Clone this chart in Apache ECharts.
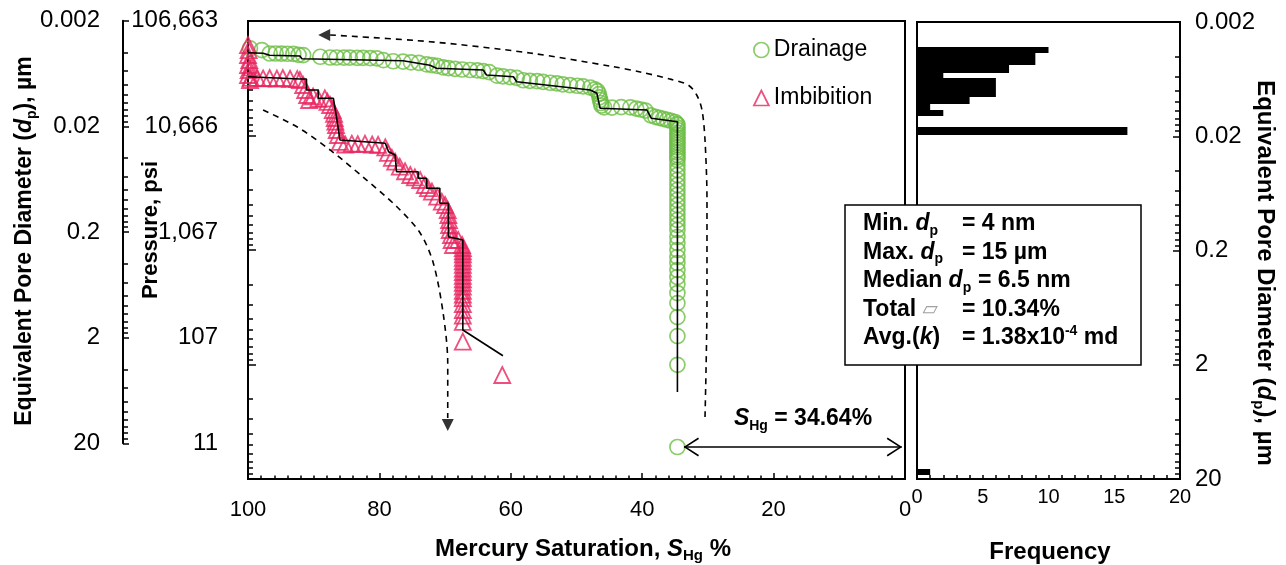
<!DOCTYPE html>
<html>
<head>
<meta charset="utf-8">
<script src="https://cdn.jsdelivr.net/npm/echarts@6/dist/echarts.min.js"></script>
<style>
html, body { margin: 0; padding: 0; background: #fff; }
#chart { width: 1286px; height: 565px; }
</style>
</head>
<body>
<div id="chart"></div>
<script>
// Washburn conversion: pore diameter (µm) = 213.326 / capillary pressure (psi)
const WASHBURN = 213.326;

// Axis ticks (pore diameter, µm) and their labels
const diameterTicks = [0.002, 0.02, 0.2, 2, 20];
const diameterTickLabels = ['0.002', '0.02', '0.2', '2', '20'];
const pressureTickLabels = ['106,663', '10,666', '1,067', '107', '11'];

// Drainage (mercury injection): saturation %, pressure psi
const drainageSat = [
  99.7, 97.9, 96.7, 95.8, 94.9, 94.0, 93.1, 92.3, 91.6, 89.0, 87.5, 86.5, 85.4, 84.5, 83.4, 82.5, 81.4, 80.4,
  79.4, 77.9, 76.4, 75.2, 74.0, 72.8, 72.0, 71.2, 70.3, 69.5, 68.5, 67.4, 66.2, 65.1, 64.2, 63.3, 62.1, 61.2,
  60.1, 59.1, 58.1, 57.1, 56.0, 55.1, 54.0, 53.0, 52.1, 51.0, 49.9, 49.0, 47.9, 47.2, 46.8, 46.6, 46.5, 46.4,
  46.3, 46.2, 45.8, 44.6, 43.2, 41.8, 40.9, 40.2, 39.5, 38.7, 38.0, 37.4, 36.8, 36.2, 35.6, 35.0, 34.7,
  34.64, 34.64, 34.64, 34.64, 34.64, 34.64, 34.64, 34.64, 34.64, 34.64, 34.64, 34.64, 34.64, 34.64, 34.64,
  34.64, 34.64, 34.64, 34.64, 34.64, 34.64, 34.64, 34.64, 34.64, 34.64, 34.64, 34.64, 34.64, 34.64, 34.64,
  34.64, 34.64, 34.64, 34.64, 34.64, 34.64, 34.64, 34.64, 34.64, 34.64, 34.64, 34.64, 34.64
];
const drainagePsi = [
  61600, 59500, 55500, 55500, 55400, 55200, 55000, 54000, 53800, 52000, 51200, 51200, 51000, 51000, 50800, 50800, 50600, 50400,
  48500, 47500, 47200, 46500, 46000, 44500, 44000, 43200, 42000, 41400, 40800, 40200, 39800, 39500, 39000, 38200, 35500, 35000,
  34500, 34000, 32400, 32000, 31800, 31400, 30800, 30400, 29800, 29400, 29000, 28700, 28000, 27000, 26000, 24500, 23000, 21800,
  20500, 19500, 18800, 18700, 18900, 18800, 18300, 18000, 17600, 16000, 15500, 15200, 14900, 14600, 14300, 14000, 13500,
  13170, 12500, 11910, 11300, 10770, 10200, 9740, 9250, 8810, 8380, 7970, 7580, 7206, 6850, 6516,
  5896, 5331, 4820, 4359, 3942, 3565, 3223, 2915, 2636, 2384, 2156, 1950, 1763, 1594, 1385,
  1227, 1067, 927, 821, 713, 620, 538, 449, 367, 277, 189, 106, 20.3
];

// Imbibition (mercury withdrawal): saturation %, pressure psi
const imbibitionSat = [
  100, 99.9, 100, 99.8, 100, 99.9, 100, 99.7, 99.5, 99.6,
  98.6, 97.7, 96.7, 95.6, 94.7, 93.6, 92.5,
  92.1, 91.6, 91.3, 91.0, 90.7, 90.1, 89.3,
  88.3, 87.9, 87.5, 87.1, 86.9, 86.8, 86.7, 86.6, 86.5, 86.3, 86.0,
  85.2, 84.2, 83.3, 82.2, 81.1, 80.2,
  79.1, 78.7, 78.1, 77.6,
  76.9, 76.1, 75.3, 74.6,
  73.8, 73.1, 72.6,
  72.0, 71.2, 70.5, 70.0,
  69.6, 69.5, 69.4, 69.4, 69.3, 69.1, 69.0, 68.8,
  68.0, 67.4,
  67.3, 67.3, 67.3, 67.3, 67.3, 67.3, 67.3, 67.3, 67.3, 67.3,
  67.3, 67.3, 67.3, 67.3, 67.3, 67.3, 67.3, 67.3, 67.3, 67.3,
  61.3
];
const imbibitionPsi = [
  65800, 59500, 53840, 48680, 44020, 39800, 36000, 32560, 42000, 34000,
  33900, 33600, 33900, 33500, 33900, 33400, 33200,
  32560, 29450, 26630, 24080, 21780, 23400, 22300,
  22500, 21000, 19690, 17820, 16500, 15160, 14100, 13170, 11910, 10770, 9400,
  8900, 9050, 8950, 9050, 8900, 8850,
  8400, 7520, 6800, 6300,
  5700, 5200, 4820, 4600,
  4359, 3942, 3700,
  3450, 3120, 2820, 2636,
  2384, 2156, 1950, 1763, 1594, 1442, 1304, 1180,
  1304, 1180,
  1110, 1040, 975, 910, 850, 790, 735, 685, 635, 590,
  550, 510, 470, 435, 405, 360, 319, 285, 251, 169,
  86.4
];

// Stepped trend lines through each curve
const drainageTrendSat = [100, 97.7, 96.7, 92.1, 91.8, 76.4, 72.3, 71.3, 64.2, 63.7, 59.6, 59.1, 47.9, 46.9, 46.4, 39.3, 38.6, 34.64, 34.64];
const drainageTrendPsi = [56400, 55700, 53520, 52770, 49980, 48000, 43770, 41200, 39810, 36000, 34800, 31470, 26630, 24920, 18430, 17820, 15070, 14080, 61.3];
const imbibitionTrendSat = [100, 92.1, 91.1, 91.1, 89.3, 89.3, 87.0, 86.5, 86.0, 79.1, 78.6, 77.6, 77.4, 74.1, 74.1, 72.8, 72.8, 70.8, 70.8, 69.5, 69.5, 67.3, 67.3, 61.2];
const imbibitionTrendPsi = [34800, 33220, 33220, 26630, 26630, 22540, 22540, 15070, 9740, 9116, 7700, 7206, 5150, 5150, 4510, 4510, 3689, 3689, 2729, 2729, 1394, 1304, 213.5, 127.3];

// Dashed guide curves (direction of each process)
const drainageGuideSat = [30.44, 30.14, 30.14, 30.44, 30.9, 31.7, 33.0, 35.8, 40.3, 44.4, 57.1, 72.3, 87.5];
const drainageGuidePsi = [37.1, 390, 2915, 9740, 17820, 24080, 29450, 33220, 38240, 42560, 56050, 70360, 80500];
const imbibitionGuideSat = [97.7, 92.5, 87.5, 82.5, 77.3, 73.8, 71.8, 70.3, 69.6, 69.6];
const imbibitionGuidePsi = [17820, 12650, 7970, 4629, 2532, 1502, 821, 300.5, 109.9, 36.4];
const guideArrowSat = [88.4, 69.6];
const guideArrowPsi = [80500, 31.6];
const guideArrowTurn = [90, 180];

// Final mercury saturation and the pressure it is reached at
const finalSaturation = 34.64;
const finalPsi = 20.3;

// Pore-size distribution: bin edges (µm) and counts
const histBinLow = [0.0033, 0.00376, 0.00426, 0.00476, 0.00556, 0.00622, 0.00706, 0.00803, 0.00912, 0.01043, 0.01178, 0.0165, 16.4];
const histBinHigh = [0.00376, 0.00426, 0.00476, 0.00556, 0.00622, 0.00706, 0.00803, 0.00912, 0.01043, 0.01178, 0.0133, 0.0195, 18.4];
const histCount = [10, 9, 9, 7, 2, 6, 6, 6, 4, 1, 2, 16, 1];

const GREEN = '#6DBE45';
const PINK = '#E8245F';
const FONT = "'Liberation Sans', Arial, Helvetica, sans-serif";
const AXIS_LINE = { color: '#000', width: 2 };
const TICK_LINE = { color: '#000', width: 1.5 };

const toDiameter = p => WASHBURN / p;
const pairs = (sats, psis) => sats.map((s, i) => [s, toDiameter(psis[i])]);

// log minor ticks: 2..9 within every decade
const minorDiameterTicks = [];
diameterTicks.slice(0, -1).forEach(base => {
  for (let m = 2; m <= 9; m++) minorDiameterTicks.push(+(base * m).toPrecision(6));
});

// index of the decade tick a label value belongs to
function tickIndex(v) {
  const e = (v > 0 && v < 1000) ? Math.log10(v) : v;
  const idx = Math.round(e - Math.log10(diameterTicks[0]));
  return Math.max(0, Math.min(diameterTicks.length - 1, idx));
}

const logY = {
  type: 'log', logBase: 10, min: 0.002, max: 20, inverse: true,
  splitLine: { show: false }, minorTick: { show: false }, minorSplitLine: { show: false },
  axisPointer: { show: false }
};
function tickAxis(gridIndex, position, values, length, showLine) {
  return Object.assign({}, logY, {
    gridIndex, position,
    axisLine: { show: showLine, onZero: false, lineStyle: AXIS_LINE },
    axisTick: { show: true, inside: true, length, lineStyle: TICK_LINE, customValues: values },
    axisLabel: { show: false }
  });
}
function labelAxis(gridIndex, position, labels, opts) {
  return Object.assign({}, logY, {
    gridIndex, position, offset: opts.offset || 0,
    axisLine: { show: !!opts.line, onZero: false, lineStyle: AXIS_LINE },
    axisTick: opts.ticks ? { show: true, inside: true, length: opts.ticks, lineStyle: TICK_LINE, customValues: diameterTicks } : { show: false },
    axisLabel: {
      show: true, inside: !!opts.inside, margin: opts.margin, customValues: diameterTicks,
      formatter: v => labels[tickIndex(v)],
      fontSize: 24, color: '#000', fontFamily: FONT
    }
  });
}

const rich = size => ({
  b: { fontSize: size, fontWeight: 'bold', fontFamily: FONT, fill: '#000', lineHeight: 28 },
  i: { fontSize: size, fontWeight: 'bold', fontStyle: 'italic', fontFamily: FONT, fill: '#000', lineHeight: 28 },
  sub: { fontSize: Math.round(size * 0.62), fontWeight: 'bold', fontFamily: FONT, fill: '#000', lineHeight: 10, verticalAlign: 'bottom' },
  sup: { fontSize: Math.round(size * 0.62), fontWeight: 'bold', fontFamily: FONT, fill: '#000', lineHeight: 21, verticalAlign: 'top' },
  phi: { fontSize: 20, fontFamily: "'DejaVu Sans', sans-serif", fill: '#a0a0a0', lineHeight: 28 }
});
function richText(x, y, text, size, rotation, align) {
  return {
    type: 'text', x, y, rotation: rotation || 0, z: 100, silent: true,
    style: { text, rich: rich(size), align: align || 'left', verticalAlign: 'middle',
      fontSize: size, fontWeight: 'bold', fontFamily: FONT, fill: '#000' }
  };
}

// statistics box
const statsLeft = ['{b|Min. }{i|d}{sub|p}', '{b|Max. }{i|d}{sub|p}', '{b|Median }{i|d}{sub|p}', '{b|Total }{phi|▱}', '{b|Avg.(}{i|k}{b|)}'];
const statsRight = ['{b|= 4 nm}', '{b|= 15 µm}', '{b|= 6.5 nm}', '{b|= 10.34%}', '{b|= 1.38x10}{sup|-4}{b| md}'];
const statsRightX = [962, 962, 978, 962, 962];

const graphics = [
  { type: 'rect', x: 845, y: 205, z: 99, silent: true, shape: { x: 0, y: 0, width: 296, height: 160 },
    style: { fill: '#fff', stroke: '#000', lineWidth: 1.5 } },
  richText(25, 241, 'Equivalent Pore Diameter ({i|d}{sub|p}), µm', 23, Math.PI / 2, 'center'),
  richText(151, 230, 'Pressure, psi', 22, Math.PI / 2, 'center'),
  richText(1265, 273, 'Equivalent Pore Diameter ({i|d}{sub|p}), µm', 24, -Math.PI / 2, 'center'),
  richText(583, 549, '{b|Mercury Saturation, }{i|S}{sub|Hg}{b| %}', 24, 0, 'center'),
  richText(1050, 552, 'Frequency', 24, 0, 'center'),
  richText(803, 419, '{i|S}{sub|Hg}{b| = ' + finalSaturation + '%}', 23, 0, 'center')
];
statsLeft.forEach((t, k) => {
  graphics.push(richText(863, 224 + k * 28.5, t, 23, 0, 'left'));
  graphics.push(richText(statsRightX[k], 224 + k * 28.5, statsRight[k], 23, 0, 'left'));
});

const CHEVRON = 'path://M-15,-15 M15,15 M-9.5,15 L0,0 L9.5,15 L8.1,15.9 L0,2.9 L-8.1,15.9 Z';

const option = {
  animation: false,
  backgroundColor: '#fff',
  textStyle: { fontFamily: FONT },
  grid: [
    { left: 248, top: 21, width: 657, height: 458, show: true, borderColor: '#000', borderWidth: 2,
      backgroundColor: 'transparent', containLabel: false, outerBoundsMode: 'none' },
    { left: 123, top: 20.7, width: 97, height: 422.6, show: false, containLabel: false, outerBoundsMode: 'none' },
    { left: 917, top: 22, width: 263, height: 457, show: true, borderColor: '#000', borderWidth: 2,
      backgroundColor: 'transparent', containLabel: false, outerBoundsMode: 'none' }
  ],
  xAxis: [
    { gridIndex: 0, type: 'value', min: 0, max: 100, interval: 20, inverse: true, position: 'bottom',
      axisLine: { show: true, onZero: false, lineStyle: AXIS_LINE },
      axisTick: { show: true, inside: true, length: 6, lineStyle: TICK_LINE },
      minorTick: { show: true, splitNumber: 10, length: 3.5, lineStyle: TICK_LINE },
      axisLabel: { margin: 20, fontSize: 22, color: '#000', fontFamily: FONT },
      splitLine: { show: false }, minorSplitLine: { show: false }, axisPointer: { show: false } },
    { gridIndex: 1, type: 'value', min: 0, max: 1, show: false },
    { gridIndex: 2, type: 'value', min: 0, max: 20, interval: 5, position: 'bottom',
      axisLine: { show: true, onZero: false, lineStyle: AXIS_LINE },
      axisTick: { show: true, inside: true, length: 4, lineStyle: TICK_LINE },
      minorTick: { show: true, splitNumber: 5, length: 4, lineStyle: TICK_LINE },
      axisLabel: { margin: 8, fontSize: 20, color: '#000', fontFamily: FONT },
      splitLine: { show: false }, minorSplitLine: { show: false }, axisPointer: { show: false } }
  ],
  yAxis: [
    tickAxis(0, 'left', diameterTicks, 8, true),            // 0 main plot
    tickAxis(0, 'left', minorDiameterTicks, 5, false),      // 1 main plot minor
    tickAxis(1, 'left', diameterTicks, 6, true),            // 2 pressure axis
    tickAxis(1, 'left', minorDiameterTicks, 5, false),      // 3 pressure axis minor
    labelAxis(1, 'right', pressureTickLabels, { inside: true, margin: 2 }),   // 4 pressure labels
    labelAxis(1, 'left', diameterTickLabels, { offset: 23, margin: 0 }),      // 5 diameter labels
    labelAxis(2, 'right', diameterTickLabels, { margin: 15, line: true, ticks: 7 }), // 6 histogram axis
    tickAxis(2, 'right', minorDiameterTicks, 5, false)      // 7 histogram minor
  ],
  legend: {
    show: true, orient: 'vertical', left: 748, top: 32, itemGap: 22, itemWidth: 15, itemHeight: 15,
    selectedMode: false,
    textStyle: { fontSize: 23, fontFamily: FONT, color: '#000', lineHeight: 26 },
    data: [
      { name: 'Drainage', icon: 'circle', itemStyle: { color: 'rgba(0,0,0,0)', borderColor: GREEN, borderWidth: 1.7 } },
      { name: 'Imbibition', icon: 'triangle', itemStyle: { color: 'rgba(0,0,0,0)', borderColor: PINK, borderWidth: 1.7 } }
    ]
  },
  series: [
    { type: 'scatter', name: 'Drainage', xAxisIndex: 0, yAxisIndex: 0, silent: true, z: 2,
      data: pairs(drainageSat, drainagePsi), symbol: 'circle', symbolSize: 15,
      itemStyle: { color: 'rgba(0,0,0,0)', borderColor: GREEN, borderWidth: 1.7 } },
    { type: 'scatter', name: 'Imbibition', xAxisIndex: 0, yAxisIndex: 0, silent: true, z: 3,
      data: pairs(imbibitionSat, imbibitionPsi), symbol: 'triangle', symbolSize: 16,
      itemStyle: { color: 'rgba(0,0,0,0)', borderColor: PINK, borderWidth: 1.8 } },
    { type: 'line', xAxisIndex: 0, yAxisIndex: 0, silent: true, z: 4, symbol: 'none',
      data: pairs(drainageTrendSat, drainageTrendPsi), lineStyle: { color: '#000', width: 1.6 } },
    { type: 'line', xAxisIndex: 0, yAxisIndex: 0, silent: true, z: 4, symbol: 'none',
      data: pairs(imbibitionTrendSat, imbibitionTrendPsi), lineStyle: { color: '#000', width: 1.6 } },
    { type: 'line', xAxisIndex: 0, yAxisIndex: 0, silent: true, z: 4, symbol: 'none', smooth: 0.3,
      data: pairs(drainageGuideSat, drainageGuidePsi), lineStyle: { color: '#000', width: 1.6, type: [6, 5] } },
    { type: 'line', xAxisIndex: 0, yAxisIndex: 0, silent: true, z: 4, symbol: 'none', smooth: 0.3,
      data: pairs(imbibitionGuideSat, imbibitionGuidePsi), lineStyle: { color: '#000', width: 1.6, type: [6, 5] } },
    { type: 'scatter', xAxisIndex: 0, yAxisIndex: 0, silent: true, z: 5, symbol: 'triangle', symbolSize: 12,
      clip: false, itemStyle: { color: '#000' },
      data: guideArrowSat.map((s, i) => ({ value: [s, toDiameter(guideArrowPsi[i])], symbolRotate: guideArrowTurn[i] })) },
    { type: 'lines', coordinateSystem: 'cartesian2d', xAxisIndex: 0, yAxisIndex: 0, silent: true, z: 5,
      symbol: [CHEVRON, CHEVRON], symbolSize: 30,
      lineStyle: { color: '#000', width: 1.6, opacity: 1, curveness: 0 },
      data: [{ coords: [[finalSaturation - 1, toDiameter(finalPsi)], [0.5, toDiameter(finalPsi)]] }] },
    { type: 'custom', xAxisIndex: 2, yAxisIndex: 6, silent: true, z: 3,
      encode: { x: 0, y: [1, 2] },
      data: histCount.map((c, i) => [c, histBinLow[i], histBinHigh[i]]),
      renderItem: (params, api) => {
        const a = api.coord([0, api.value(1)]);
        const b = api.coord([api.value(0), api.value(2)]);
        const top = Math.round(Math.min(a[1], b[1]));
        const bottom = Math.round(Math.max(a[1], b[1]));
        return { type: 'rect',
          shape: { x: a[0], y: top, width: b[0] - a[0], height: bottom - top },
          style: { fill: '#000' } };
      } }
  ],
  graphic: graphics
};

const chart = echarts.init(document.getElementById('chart'), null, { renderer: 'canvas' });
chart.setOption(option);
</script>
</body>
</html>
